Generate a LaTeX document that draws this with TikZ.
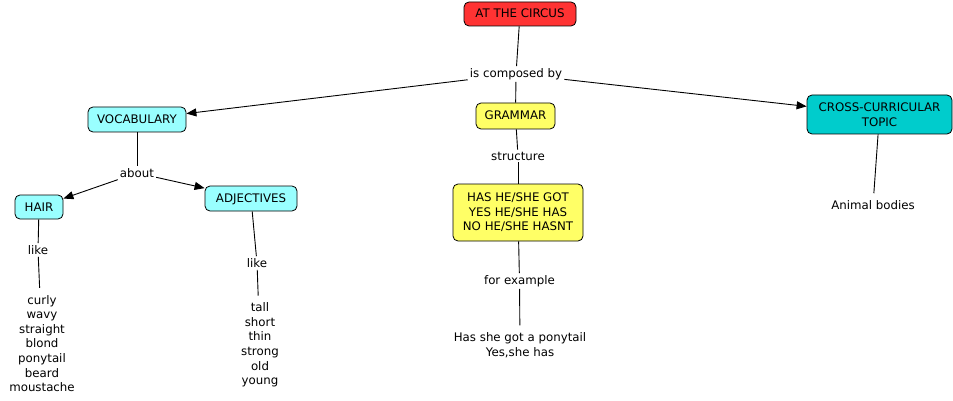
\documentclass[tikz,border=0pt]{standalone}
\usepackage{fontspec}
\setmainfont{DejaVu Sans}
\usetikzlibrary{arrows.meta}
\definecolor{cred}{RGB}{255,51,51}
\definecolor{cyanl}{RGB}{153,255,255}
\definecolor{yel}{RGB}{255,255,102}
\definecolor{tealc}{RGB}{0,204,204}
\begin{document}
\begin{tikzpicture}[x=1pt,y=-1pt, font=\fontsize{11.8}{14.6}\selectfont,
 concept/.style={draw=black, rounded corners=5pt, line width=0.8pt, inner xsep=4pt, inner ysep=6pt, align=center},
 single/.style={text height=9.5pt, text depth=1.5pt},
 link/.style={fill=white, inner sep=2pt},
 plain/.style={inner sep=7pt, align=center},
 conn/.style={line width=0.9pt},
 arr/.style={conn, -{Triangle[length=10pt,width=8pt]}}]
\useasboundingbox (0,0) rectangle (953,401);
\node[concept, single, fill=cred, minimum width=112pt, minimum height=24pt] (circus) at (520,14) {AT THE CIRCUS};
\node[link] (comp) at (516,74) {is composed by};
\node[concept, single, fill=cyanl, minimum width=98pt, minimum height=25pt] (voc) at (137,119.5) {VOCABULARY};
\node[concept, single, fill=yel, minimum width=79pt, minimum height=26pt] (gram) at (515.5,116) {GRAMMAR};
\node[concept, fill=tealc, minimum width=145pt, minimum height=39pt] (cross) at (879.5,114.5) {CROSS-CURRICULAR\\TOPIC};
\node[link] (about) at (137,173) {about};
\node[concept, single, fill=cyanl, minimum width=48pt, minimum height=24pt] (hair) at (39,207) {HAIR};
\node[concept, single, fill=cyanl, minimum width=92pt, minimum height=25pt] (adj) at (251,198.5) {ADJECTIVES};
\node[link] (like1) at (38,250) {like};
\node[link] (like2) at (257,263) {like};
\node[plain] (hairlist) at (42,343.5) {curly\\wavy\\straight\\blond\\ponytail\\beard\\moustache};
\node[plain] (adjlist) at (260,345) {tall\\short\\thin\\strong\\old\\young};
\node[link] (struct) at (518,156) {structure};
\node[concept, fill=yel, minimum width=130pt, minimum height=57pt] (has) at (518,212.5) {HAS HE/SHE GOT\\YES HE/SHE HAS\\NO HE/SHE HASNT};
\node[link] (forex) at (519.5,281) {for example};
\node[plain] (ex) at (520,345) {Has she got a ponytail\\Yes,she has};
\node[plain] (animal) at (873,205) {Animal bodies};
\draw[conn] (circus) -- (comp);
\draw[conn] (comp) -- (gram);
\draw[arr] (comp) -- (voc);
\draw[arr] (comp) -- (cross);
\draw[conn] (voc) -- (about);
\draw[arr] (about) -- (hair);
\draw[arr] (about) -- (adj);
\draw[conn] (hair) -- (like1);
\draw[conn] (like1) -- (hairlist);
\draw[conn] (adj) -- (like2);
\draw[conn] (like2) -- (adjlist);
\draw[conn] (gram) -- (struct);
\draw[conn] (struct) -- (has);
\draw[conn] (has) -- (forex);
\draw[conn] (forex) -- (ex);
\draw[conn] (cross) -- (animal);
\end{tikzpicture}
\end{document}
